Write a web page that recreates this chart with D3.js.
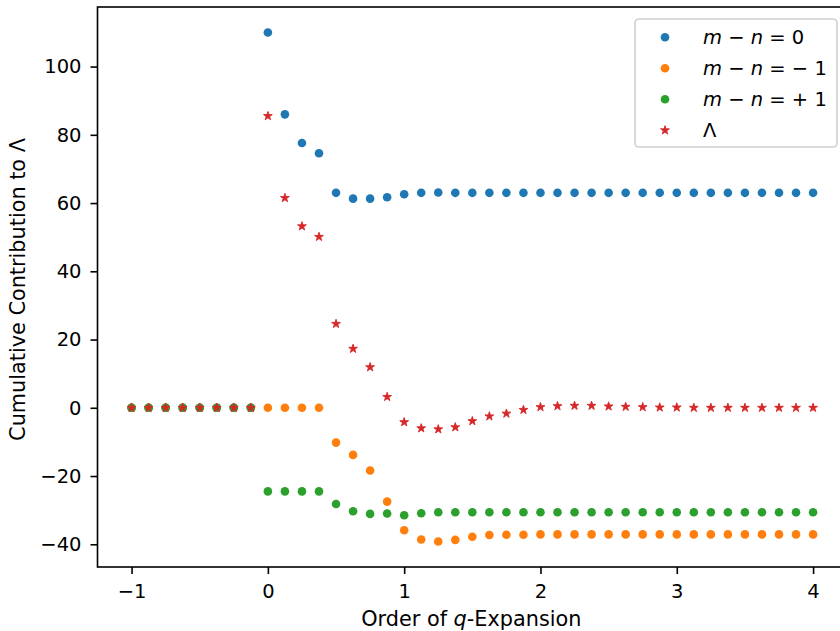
<!DOCTYPE html>
<html lang="en">
  <head>
    <meta charset="UTF-8" />
    <title>Cumulative Contribution</title>
    <script src="https://d3js.org/d3.v7.min.js"></script>
    <style>
      body {
        margin: 0;
        background: #fff;
      }
      svg {
        display: block;
        font-family: "DejaVu Sans", sans-serif;
      }
      .axis path,
      .axis line {
        stroke: #000;
        stroke-width: 1.6;
      }
      .axis text {
        font-size: 19.5px;
        fill: #000;
        font-family: "DejaVu Sans", sans-serif;
      }
    </style>
  </head>
  <body>
    <svg width="840" height="631"></svg>

    <script>
      // order of the q-expansion
      const orders = [
        -1, -0.875, -0.75, -0.625, -0.5, -0.375, -0.25, -0.125,
        0, 0.125, 0.25, 0.375, 0.5, 0.625, 0.75, 0.875,
        1, 1.125, 1.25, 1.375, 1.5, 1.625, 1.75, 1.875,
        2, 2.125, 2.25, 2.375, 2.5, 2.625, 2.75, 2.875,
        3, 3.125, 3.25, 3.375, 3.5, 3.625, 3.75, 3.875, 4,
      ];

      const diff0 = [
        0, 0, 0, 0, 0, 0, 0, 0,
        110.0, 86.0, 77.6, 74.6, 63.0, 61.3, 61.3, 61.7,
        62.6, 63.0, 63.1, 63.0, 63.0, 63.0, 63.0, 63.0,
        63.0, 63.0, 63.0, 63.0, 63.0, 63.0, 63.0, 63.0,
        63.0, 63.0, 63.0, 63.0, 63.0, 63.0, 63.0, 63.0, 63.0,
      ];

      const diffMinus1 = [
        0, 0, 0, 0, 0, 0, 0, 0,
        0, 0, 0, 0, -10.2, -13.8, -18.4, -27.5,
        -35.9, -38.6, -39.2, -38.7, -37.8, -37.3, -37.2, -37.2,
        -37.1, -37.1, -37.1, -37.1, -37.1, -37.1, -37.1, -37.1,
        -37.1, -37.1, -37.1, -37.1, -37.1, -37.1, -37.1, -37.1, -37.1,
      ];

      const diffPlus1 = [
        0, 0, 0, 0, 0, 0, 0, 0,
        -24.5, -24.5, -24.5, -24.5, -28.2, -30.3, -31.1, -31.0,
        -31.5, -30.9, -30.6, -30.6, -30.6, -30.6, -30.6, -30.6,
        -30.6, -30.6, -30.6, -30.6, -30.6, -30.6, -30.6, -30.6,
        -30.6, -30.6, -30.6, -30.6, -30.6, -30.6, -30.6, -30.6, -30.6,
      ];

      const lambda = [
        0, 0, 0, 0, 0, 0, 0, 0,
        85.5, 61.5, 53.2, 50.1, 24.6, 17.3, 11.9, 3.2,
        -4.2, -6.0, -6.3, -5.7, -3.9, -2.5, -1.7, -0.6,
        0.2, 0.5, 0.6, 0.6, 0.4, 0.3, 0.2, 0.1,
        0.1, 0.0, 0.0, 0.0, 0.0, 0.0, 0.0, 0.0, 0.0,
      ];

      const xTicks = [-1, 0, 1, 2, 3, 4];
      const yTicks = [-40, -20, 0, 20, 40, 60, 80, 100];

      const series = [
        { name: "m0", values: diff0, color: "#1f77b4", shape: "circle" },
        { name: "m-1", values: diffMinus1, color: "#ff7f0e", shape: "circle" },
        { name: "m+1", values: diffPlus1, color: "#2ca02c", shape: "circle" },
        { name: "lambda", values: lambda, color: "#d62728", shape: "star" },
      ];

      const svg = d3.select("svg");
      const plotLeft = 97.5,
        plotTop = 7,
        plotBottom = 567;

      // matplotlib-style 5% margins
      const xExt = d3.extent(orders);
      const xPad = (xExt[1] - xExt[0]) * 0.05;
      const x = d3
        .scaleLinear()
        .domain([xExt[0] - xPad, xExt[1] + xPad])
        .range([plotLeft, plotLeft + 136.3 * (xExt[1] - xExt[0] + 2 * xPad)]);

      const allY = series.flatMap((s) => s.values);
      const yExt = d3.extent(allY);
      const yPad = (yExt[1] - yExt[0]) * 0.05;
      const y = d3
        .scaleLinear()
        .domain([yExt[0] - yPad, yExt[1] + yPad])
        .range([plotBottom, plotTop]);

      const plotRight = x.range()[1];

      // frame
      svg
        .append("rect")
        .attr("x", plotLeft)
        .attr("y", plotTop)
        .attr("width", plotRight - plotLeft)
        .attr("height", plotBottom - plotTop)
        .attr("fill", "none")
        .attr("stroke", "#000")
        .attr("stroke-width", 1.6);

      const star = d3.symbol().type(d3.symbolStar).size(24);

      series.forEach((s) => {
        const g = svg.append("g").attr("fill", s.color);
        const pts = orders.map((o, i) => [o, s.values[i]]);
        if (s.shape === "circle") {
          g.selectAll("circle")
            .data(pts)
            .enter()
            .append("circle")
            .attr("cx", (d) => x(d[0]))
            .attr("cy", (d) => y(d[1]))
            .attr("r", 4.3);
        } else {
          g.attr("stroke", s.color).attr("stroke-width", 0.9);
          g.selectAll("path")
            .data(pts)
            .enter()
            .append("path")
            .attr("d", star)
            .attr("transform", (d) => `translate(${x(d[0])},${y(d[1])})`);
        }
      });

      // axes
      const xAxis = svg
        .append("g")
        .attr("class", "axis")
        .attr("transform", `translate(0,${plotBottom})`)
        .call(
          d3.axisBottom(x).tickValues(xTicks).tickFormat(d3.format("d"))
            .tickSize(7).tickPadding(7).tickSizeOuter(0)
        );
      xAxis.select(".domain").remove();
      xAxis.selectAll("text").attr("y", 17).attr("dy", "0.71em");

      const yAxis = svg
        .append("g")
        .attr("class", "axis")
        .attr("transform", `translate(${plotLeft},0)`)
        .call(
          d3.axisLeft(y).tickValues(yTicks).tickFormat(d3.format("d"))
            .tickSize(7).tickPadding(9).tickSizeOuter(0)
        );
      yAxis.select(".domain").remove();

      // axis labels
      const xl = svg
        .append("text")
        .attr("x", (plotLeft + plotRight) / 2 - 1)
        .attr("y", 626)
        .attr("text-anchor", "middle")
        .attr("font-size", 20.8);
      xl.append("tspan").text("Order of ");
      xl.append("tspan").attr("font-style", "italic").text("q");
      xl.append("tspan").text("-Expansion");

      svg
        .append("text")
        .attr("transform", `translate(25,289.5) rotate(-90)`)
        .attr("text-anchor", "middle")
        .attr("font-size", 20.8)
        .text("Cumulative Contribution to Λ");

      // legend
      const legend = svg.append("g");
      legend
        .append("rect")
        .attr("x", 635)
        .attr("y", 19)
        .attr("width", 202)
        .attr("height", 128)
        .attr("rx", 4)
        .attr("fill", "#fff")
        .attr("fill-opacity", 0.8)
        .attr("stroke", "#d0d0d0")
        .attr("stroke-width", 1.6);

      const labels = [
        [["m", true], [" \u2212 ", false], ["n", true], [" = 0", false]],
        [["m", true], [" \u2212 ", false], ["n", true], [" = \u2212 1", false]],
        [["m", true], [" \u2212 ", false], ["n", true], [" = + 1", false]],
        [["\u039b", false]],
      ];

      series.forEach((s, i) => {
        const cy = 37.3 + 31 * i;
        if (s.shape === "circle") {
          legend
            .append("circle")
            .attr("cx", 665)
            .attr("cy", cy)
            .attr("r", 4.3)
            .attr("fill", s.color);
        } else {
          legend
            .append("path")
            .attr("d", star)
            .attr("transform", `translate(665,${cy})`)
            .attr("fill", s.color)
            .attr("stroke", s.color)
            .attr("stroke-width", 0.9);
        }
        const t = legend
          .append("text")
          .attr("x", 703)
          .attr("y", cy + 6.5)
          .attr("font-size", 19.5)
          .attr("xml:space", "preserve")
          .style("white-space", "pre");
        labels[i].forEach(([str, it]) => {
          t.append("tspan")
            .attr("font-style", it ? "italic" : "normal")
            .text(str);
        });
      });
    </script>
  </body>
</html>
